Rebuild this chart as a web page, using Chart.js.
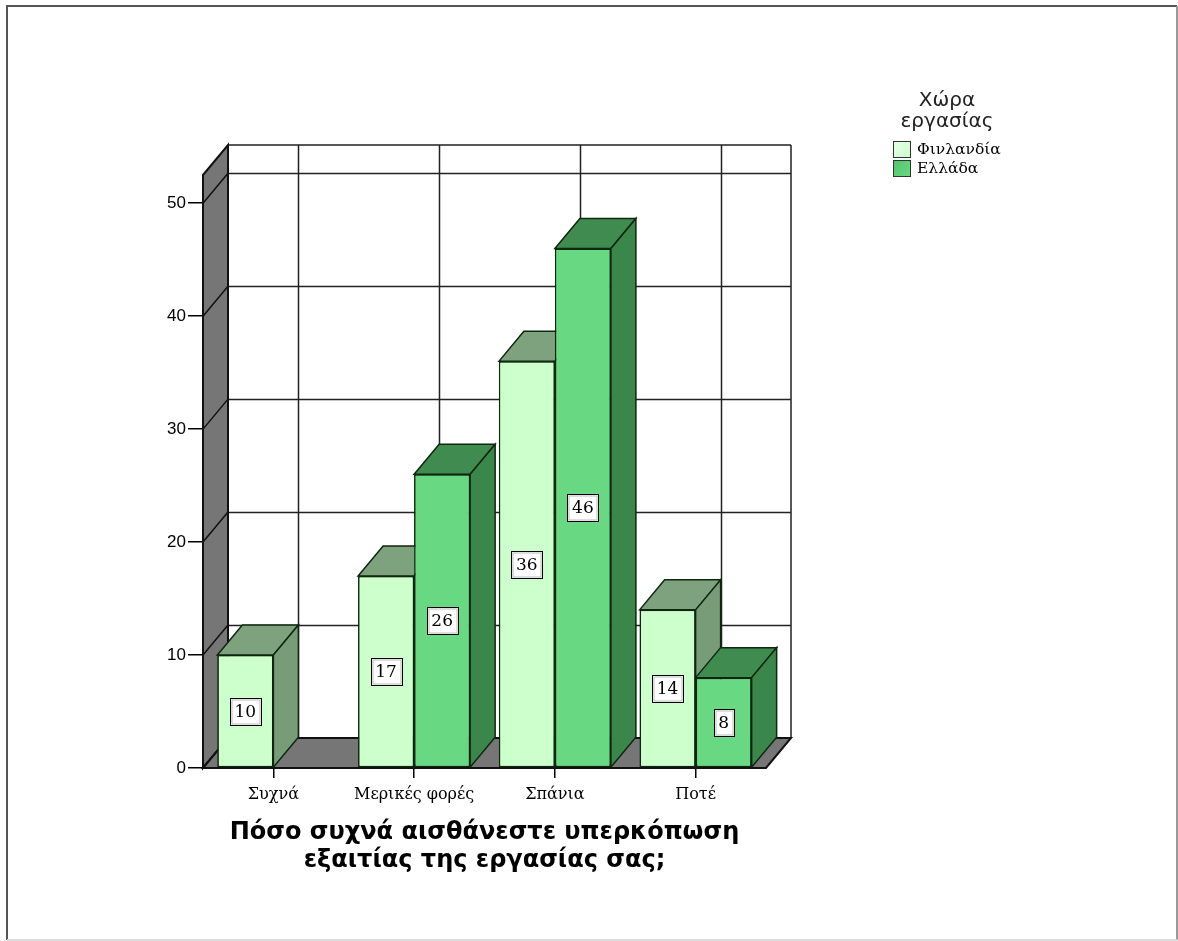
<!DOCTYPE html>
<html><head><meta charset="utf-8">
<script src="https://cdn.jsdelivr.net/npm/chart.js@4.4.0/dist/chart.umd.min.js"></script>
<style>html,body{margin:0;padding:0;background:#fff}canvas{display:block}</style>
</head><body>
<canvas id="c" width="1178" height="941"></canvas>
<script>
const categories = ['Συχνά', 'Μερικές φορές', 'Σπάνια', 'Ποτέ'];
const finland = [10, 17, 36, 14];
const greece = [0, 26, 46, 8];
const seriesNames = ['Φινλανδία', 'Ελλάδα'];
const yTicks = [0, 10, 20, 30, 40, 50];
const axisTitle = ['Πόσο συχνά αισθάνεστε υπερκόπωση', 'εξαιτίας της εργασίας σας;'];
const legendTitle = ['Χώρα', 'εργασίας'];

const DX = 25, DY = 30;
const FRONT = ['#ccffcc', '#68d982'];
const TOP = ['#7ea27e', '#3f8b50'];
const SIDE = ['#789c78', '#3a864b'];
const EDGE = '#0f260f';
const WALL = '#767676';
const SERIF = '"DejaVu Serif", "Liberation Serif", serif';

function poly(ctx, pts, fill, stroke, lw) {
  ctx.beginPath();
  ctx.moveTo(pts[0][0], pts[0][1]);
  for (let i = 1; i < pts.length; i++) ctx.lineTo(pts[i][0], pts[i][1]);
  ctx.closePath();
  if (fill) { ctx.fillStyle = fill; ctx.fill(); }
  if (stroke) { ctx.strokeStyle = stroke; ctx.lineWidth = lw || 1.5; ctx.stroke(); }
}

const threeD = {
  id: 'threeD',
  beforeDraw(chart) {
    const ctx = chart.ctx;
    ctx.save();
    ctx.fillStyle = '#fff';
    ctx.fillRect(0, 0, chart.width, chart.height);
    ctx.lineWidth = 2;
    ctx.strokeStyle = '#555';
    ctx.beginPath(); ctx.moveTo(7, 940); ctx.lineTo(7, 6); ctx.lineTo(1177, 6); ctx.stroke();
    ctx.strokeStyle = '#999';
    ctx.beginPath(); ctx.moveTo(1177, 6); ctx.lineTo(1177, 940); ctx.stroke();
    ctx.strokeStyle = '#ddd';
    ctx.beginPath(); ctx.moveTo(7, 940); ctx.lineTo(1177, 940); ctx.stroke();
    ctx.restore();
  },
  beforeDatasetsDraw(chart) {
    const { ctx, chartArea: a, scales: { x, y } } = chart;
    ctx.save();
    ctx.fillStyle = '#fff';
    ctx.fillRect(a.left + DX, a.top - DY, a.right - a.left, a.bottom - a.top);
    ctx.strokeStyle = '#222';
    ctx.lineWidth = 1.5;
    ctx.beginPath();
    yTicks.forEach(v => {
      const py = Math.round(y.getPixelForValue(v) - DY) + 0.5;
      ctx.moveTo(a.left + DX, py); ctx.lineTo(a.right + DX, py);
    });
    ctx.moveTo(a.left + DX, a.top - DY); ctx.lineTo(a.right + DX, a.top - DY);
    categories.forEach((c, i) => {
      const px = Math.round(x.getPixelForValue(i) + DX) + 0.5;
      ctx.moveTo(px, a.top - DY); ctx.lineTo(px, a.bottom - DY);
    });
    ctx.moveTo(a.right + DX, a.top - DY); ctx.lineTo(a.right + DX, a.bottom - DY);
    ctx.stroke();
    poly(ctx, [[a.left, a.top], [a.left + DX, a.top - DY], [a.left + DX, a.bottom - DY], [a.left, a.bottom]], WALL, '#111', 2);
    ctx.strokeStyle = '#111';
    ctx.lineWidth = 1.5;
    ctx.beginPath();
    yTicks.forEach(v => {
      const py = y.getPixelForValue(v);
      ctx.moveTo(a.left, py); ctx.lineTo(a.left + DX, py - DY);
    });
    ctx.stroke();
    poly(ctx, [[a.left, a.bottom], [a.left + DX, a.bottom - DY], [a.right + DX, a.bottom - DY], [a.right, a.bottom]], WALL, '#111', 2);
    ctx.restore();
  },
  afterDatasetsDraw(chart) {
    const ctx = chart.ctx;
    const metas = chart.data.datasets.map((d, i) => chart.getDatasetMeta(i));
    ctx.save();
    categories.forEach((c, i) => {
      metas.forEach((m, di) => {
        const v = chart.data.datasets[di].data[i];
        if (!v) return;
        const el = m.data[i];
        el.draw(ctx);
        const p = el.getProps(['x', 'y', 'base', 'width'], true);
        const x0 = p.x - p.width / 2, x1 = p.x + p.width / 2;
        poly(ctx, [[x0, p.y], [x0 + DX, p.y - DY], [x1 + DX, p.y - DY], [x1, p.y]], TOP[di], EDGE, 1.5);
        poly(ctx, [[x1, p.y], [x1 + DX, p.y - DY], [x1 + DX, p.base - DY], [x1, p.base]], SIDE[di], EDGE, 1.5);
      });
    });
    ctx.font = '17px ' + SERIF;
    ctx.textAlign = 'center';
    ctx.textBaseline = 'middle';
    metas.forEach((m, di) => {
      m.data.forEach((el, i) => {
        const v = chart.data.datasets[di].data[i];
        if (!v) return;
        const p = el.getProps(['x', 'y', 'base'], true);
        const cy = (p.y + p.base) / 2;
        const t = String(v);
        const w = Math.round(ctx.measureText(t).width) + 9;
        const h = 27;
        const bx = Math.round(p.x - w / 2) + 0.5, by = Math.round(cy - h / 2) + 0.5;
        ctx.fillStyle = '#fff';
        ctx.fillRect(bx, by, w, h);
        ctx.strokeStyle = '#000';
        ctx.lineWidth = 1;
        ctx.strokeRect(bx, by, w, h);
        ctx.strokeStyle = '#bbb';
        ctx.strokeRect(bx + 1.5, by + 1.5, w - 3, h - 3);
        ctx.fillStyle = '#000';
        ctx.fillText(t, p.x, cy + 1);
      });
    });
    ctx.restore();
  },
  afterDraw(chart) {
    const ctx = chart.ctx;
    ctx.save();
    ctx.textAlign = 'center';
    ctx.textBaseline = 'middle';
    ctx.fillStyle = '#222';
    ctx.font = '20px "DejaVu Sans", "Liberation Sans", sans-serif';
    legendTitle.forEach((t, i) => ctx.fillText(t, 947, 101 + i * 21));
    const ys = [141, 160];
    seriesNames.forEach((n, i) => {
      const g = ctx.createLinearGradient(893, ys[i], 911, ys[i] + 16);
      g.addColorStop(0, i ? '#4fc46c' : '#e6ffe6');
      g.addColorStop(1, FRONT[i]);
      ctx.fillStyle = g;
      ctx.fillRect(893.5, ys[i] + 0.5, 17, 16);
      ctx.strokeStyle = '#333';
      ctx.lineWidth = 1;
      ctx.strokeRect(893.5, ys[i] + 0.5, 17, 16);
      ctx.fillStyle = '#000';
      ctx.textAlign = 'left';
      ctx.font = '15.5px ' + SERIF;
      ctx.fillText(n, 917, ys[i] + 9);
    });
    ctx.restore();
  }
};

new Chart(document.getElementById('c'), {
  type: 'bar',
  data: {
    labels: categories,
    datasets: [
      { label: seriesNames[0], data: finland, backgroundColor: FRONT[0], borderColor: EDGE, borderWidth: 1.5, borderSkipped: false },
      { label: seriesNames[1], data: greece, backgroundColor: FRONT[1], borderColor: EDGE, borderWidth: 1.5, borderSkipped: false }
    ]
  },
  options: {
    responsive: false,
    animation: false,
    categoryPercentage: 0.796,
    barPercentage: 1.0,
    layout: { padding: { left: 153, top: 175, right: 412, bottom: 66 } },
    plugins: { legend: { display: false }, tooltip: { enabled: false }, title: { display: false } },
    scales: {
      x: {
        offset: true,
        afterFit(s) { s.height = 107; },
        grid: { display: true, offset: false, drawOnChartArea: false, drawTicks: true, tickLength: 10, color: '#000', lineWidth: 1.5 },
        border: { display: false },
        ticks: { color: '#000', font: { family: SERIF, size: 16 }, padding: 7, maxRotation: 0, autoSkip: false },
        title: { display: true, text: axisTitle, color: '#000', font: { family: '"DejaVu Sans", "Liberation Sans", sans-serif', size: 24, weight: 'bold', lineHeight: '28px' }, padding: { top: 0, bottom: 0 } }
      },
      y: {
        min: 0, max: 52.5,
        afterFit(s) { s.width = 50; },
        afterBuildTicks(s) { s.ticks = yTicks.map(v => ({ value: v })); },
        grid: { display: true, drawOnChartArea: false, drawTicks: true, tickLength: 15, color: '#000', lineWidth: 1.5 },
        border: { display: false },
        ticks: { color: '#000', font: { family: '"Liberation Sans", Arial, sans-serif', size: 17 }, padding: 2 }
      }
    }
  },
  plugins: [threeD]
});
</script>
</body></html>
